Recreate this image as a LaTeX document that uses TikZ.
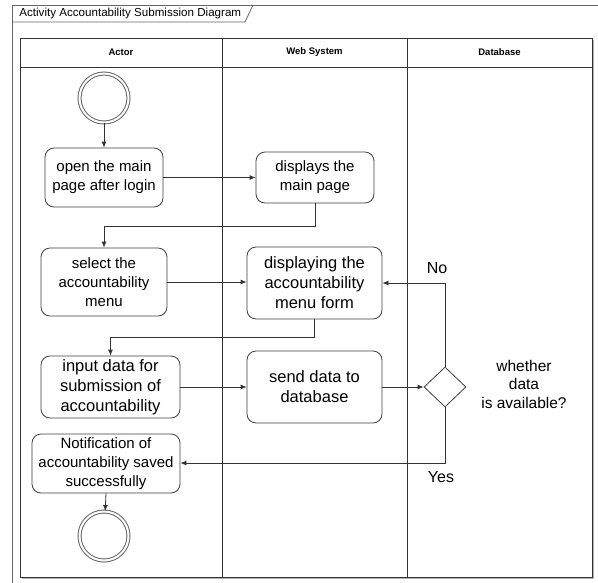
\documentclass[tikz,border=0pt]{standalone}
\usepackage{fontspec}
\setmainfont{Liberation Sans}
\usetikzlibrary{arrows.meta,shapes.geometric}
\begin{document}
\begin{tikzpicture}[x=1pt,y=-1pt,
  line width=0.8pt,
  lane/.style={draw=black!80},
  actbox/.style={draw=black!75, rounded corners=9pt, align=center, inner sep=2pt,
    font=\fontsize{15}{18.8}\selectfont},
  bigtext/.style={font=\fontsize{16.5}{20}\selectfont},
  flow/.style={draw=black!80, -{Latex[length=6pt,width=5pt]}},
  endpt/.style={circle, draw=black!60, double=white, double distance=2pt, line width=1pt, minimum size=49pt, inner sep=0pt},
  hdr/.style={font=\fontsize{9.5}{11}\selectfont\bfseries},
  lbl/.style={font=\fontsize{16}{18}\selectfont}]
\useasboundingbox (0,0) rectangle (598,582);
\fill[white] (0,0) rectangle (598,582);
% outer frame (cropped at right and bottom)
\draw[black!60] (12,590) -- (12,5) -- (605,5);
\draw[black!60] (12,22) -- (245,22) -- (253,5);
\node[anchor=west, font=\fontsize{11.6}{13}\selectfont, inner sep=0pt] (title) at (19,13.5) {Activity Accountability Submission Diagram};
% pool
\draw[black!30, line width=1.5pt] (593.5,40) -- (593.5,578.5) -- (22,578.5);
\draw[lane] (20,38) rectangle (592,577);
\draw[lane] (20,67) -- (592,67);
\draw[lane] (222,38) -- (222,577);
\draw[lane] (407,38) -- (407,577);
\node[hdr] (h1) at (121,52.5) {Actor};
\node[hdr] (h2) at (314.5,52.5) {Web System};
\node[hdr] (h3) at (499.5,52.5) {Database};
% nodes
\node[endpt] (start) at (104,98) {};
\node[actbox, minimum width=118pt, minimum height=59pt] (b1) at (104,177.5) {open the main\\page after login};
\node[actbox, minimum width=118pt, minimum height=51pt] (b2) at (315,177.5) {displays the\\main page};
\node[actbox, minimum width=126pt, minimum height=68pt] (b3) at (104,282) {select the\\accountability\\menu};
\node[actbox, bigtext, minimum width=135pt, minimum height=72pt] (b4) at (314.5,283) {displaying the\\accountability\\menu form};
\node[actbox, bigtext, minimum width=139pt, minimum height=62pt] (b5) at (110.5,387) {input data for\\submission of\\accountability};
\node[actbox, bigtext, minimum width=135pt, minimum height=72pt] (b6) at (314.5,387) {send data to\\database};
\node[diamond, draw=black!75, minimum width=42pt, minimum height=40pt, inner sep=0pt, aspect=1.05] (dia) at (445,387) {};
\node[actbox, minimum width=148pt, minimum height=59pt] (b7) at (106,463.5) {Notification of\\accountability saved\\successfully};
\node[endpt] (end) at (104,536) {};
\node[align=center, font=\fontsize{15.5}{18.5}\selectfont] (q) at (524,384) {whether\\data\\is available?};
\node[lbl] (no) at (437,268) {No};
\node[lbl] (yes) at (441,477) {Yes};
\coordinate (c1) at (315,226);
\coordinate (c2) at (104,226);
\coordinate (c3) at (314.5,337);
\coordinate (c4) at (110.5,337);
\coordinate (c5) at (445,283);
\coordinate (c6) at (445,463);
% connectors
\draw[flow] (start) -- (b1);
\draw[flow] (b1.east) -- (b2.west);
\draw[flow] (b2.south) -- (c1) -- (c2) -- (b3.north);
\draw[flow] (b3.east) -- (b4.west |- b3.east);
\draw[flow] (b4.south) -- (c3) -- (c4) -- (b5.north);
\draw[flow] (b5.east) -- (b6.west);
\draw[flow] (b6.east) -- (dia.west);
\draw[flow] (dia.north) -- (c5) -- (b4.east);
\draw[flow] (dia.south) -- (c6) -- (b7.east |- c6);
\draw[flow] (b7.south) -- (end);
\end{tikzpicture}
\end{document}
